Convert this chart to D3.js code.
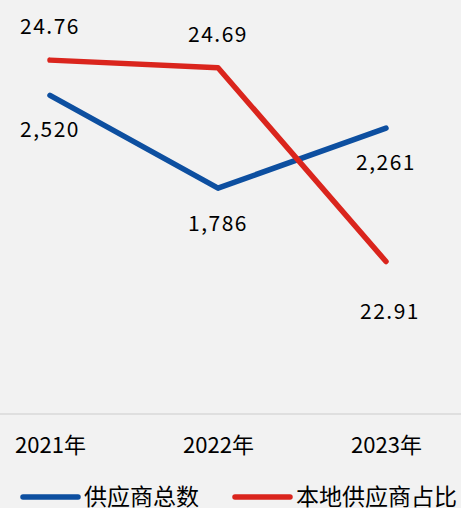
<!DOCTYPE html>
<html><head><meta charset="utf-8">
<script src="https://cdn.jsdelivr.net/npm/d3@7"></script>
<style>html,body{margin:0;padding:0;background:#f2f2f2;overflow:hidden}</style>
</head><body>
<svg id="c" width="461" height="508"></svg>
<script>
const categories = ["2021年", "2022年", "2023年"];
const supplierTotal = [2520, 1786, 2261];
const localShare = [24.76, 24.69, 22.91];
const seriesNames = ["供应商总数", "本地供应商占比"];
const colors = ["#0d4fa0", "#da251d"];

const W = 461, H = 508;
const svg = d3.select("#c");
svg.append("rect").attr("width", W).attr("height", H).attr("fill", "#f2f2f2");
const font = "'Noto Sans CJK SC', 'Noto Sans', sans-serif";

const x = d3.scalePoint().domain(categories).range([50, 386]);
const yL = d3.scaleLinear().domain([0, 3250]).range([414, 3]);
const yR = d3.scaleLinear().domain([21.5, 25]).range([415, 34]);

// axis line
svg.append("line").attr("x1", 0).attr("x2", W).attr("y1", 414).attr("y2", 414)
  .attr("stroke", "#d9d9d9").attr("stroke-width", 1.5);

const xAxis = d3.axisBottom(x).tickSize(0).tickPadding(0);
const gx = svg.append("g").attr("transform", "translate(0,418)").call(xAxis);
gx.select(".domain").remove();
gx.selectAll("text").attr("font-family", font).attr("font-size", 22).attr("fill", "#000")
  .attr("dy", "0").attr("y", 35);

const line = (ys) => d3.line().x((d, i) => x(categories[i])).y(d => ys(d));

svg.append("path").datum(supplierTotal).attr("d", line(yL))
  .attr("fill", "none").attr("stroke", colors[0]).attr("stroke-width", 5.5)
  .attr("stroke-linecap", "round").attr("stroke-linejoin", "round");
svg.append("path").datum(localShare).attr("d", line(yR))
  .attr("fill", "none").attr("stroke", colors[1]).attr("stroke-width", 5.5)
  .attr("stroke-linecap", "round").attr("stroke-linejoin", "round");

const fmtInt = d3.format(",");
const fmtPct = d3.format(".2f");
// blue labels below points
svg.selectAll(".lb").data(supplierTotal).join("text")
  .attr("x", (d, i) => x(categories[i]))
  .attr("y", (d, i) => yL(d) + (i === 1 ? 43 : 42))
  .attr("text-anchor", "middle").attr("font-family", font).attr("font-size", 21)
  .attr("letter-spacing", 1.5)
  .attr("fill", "#000").text(d => fmtInt(d));
// red labels: above except last below
svg.selectAll(".lr").data(localShare).join("text")
  .attr("x", (d, i) => x(categories[i]) + (i === 2 ? 4 : 0))
  .attr("y", (d, i) => i === 2 ? yR(d) + 57 : yR(d) - 26)
  .attr("text-anchor", "middle").attr("font-family", font).attr("font-size", 21)
  .attr("letter-spacing", 1.5)
  .attr("fill", "#000").text(d => fmtPct(d));

// legend
const lg = svg.append("g");
const legendX = [23, 235];
seriesNames.forEach((name, i) => {
  lg.append("line").attr("x1", legendX[i]).attr("x2", legendX[i] + 55)
    .attr("y1", 497).attr("y2", 497).attr("stroke", colors[i]).attr("stroke-width", 5.5)
    .attr("stroke-linecap", "round");
  lg.append("text").attr("x", legendX[i] + 61).attr("y", 505)
    .attr("font-family", font).attr("font-size", 23).attr("fill", "#000").text(name);
});
</script>
</body></html>
